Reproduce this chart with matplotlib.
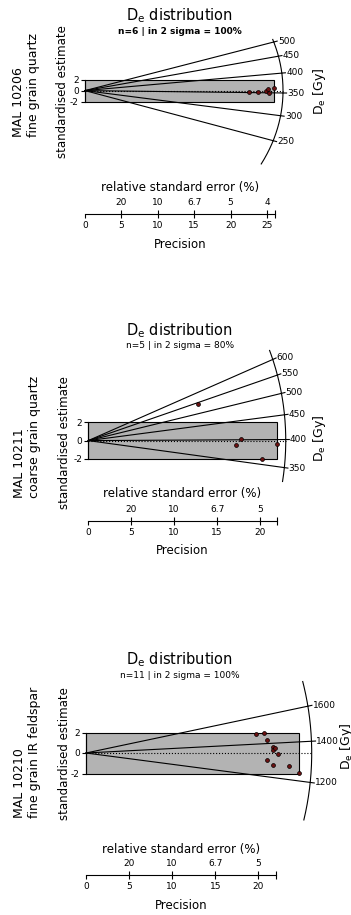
import numpy as np
import matplotlib.pyplot as plt
from matplotlib.patches import Rectangle

W, H = 351, 915

# MAL 10206 - fine grain quartz
p1_prec = [22.57, 23.76, 24.89, 25.07, 25.23, 26.03]
p1_z = [-0.28, -0.20, -0.02, 0.32, -0.52, 0.50]
p1_central = 355.6
p1_ticks = [250, 300, 350, 400, 450, 500]
p1_arc = [205, 510]
p1_prec_ticks = [0, 5, 10, 15, 20, 25]
p1_rse_labels = ['20', '10', '6.7', '5', '4']
p1_axis_end = 26.1

# MAL 10211 - coarse grain quartz
p2_prec = [12.81, 17.75, 17.24, 20.20, 21.98]
p2_z = [3.98, 0.12, -0.48, -1.98, -0.40]
p2_central = 398.0
p2_ticks = [350, 400, 450, 500, 550, 600]
p2_arc = [327, 633]
p2_prec_ticks = [0, 5, 10, 15, 20]
p2_rse_labels = ['20', '10', '6.7', '5']
p2_axis_end = 21.95

# MAL 10210 - fine grain IR feldspar
p3_prec = [19.73, 20.70, 20.97, 21.66, 21.66, 21.97, 22.32, 21.04, 21.75, 23.60, 24.76]
p3_z = [1.81, 1.98, 1.30, 0.58, 0.32, 0.49, -0.10, -0.65, -1.21, -1.30, -1.95]
p3_central = 1340.0
p3_ticks = [1200, 1400, 1600]
p3_arc = [1035, 1768]
p3_prec_ticks = [0, 5, 10, 15, 20]
p3_rse_labels = ['20', '10', '6.7', '5']
p3_axis_end = 22.05

fig = plt.figure(figsize=(W / 100, H / 100), dpi=100)


def fx(px):
    return px / W


def fy(py):
    return 1 - py / H


def radial(prec, z, central, ticks, arc, prec_ticks, rse_labels, axis_end,
           sample, subtitle, lay, bold=False):
    ox, oy, sx, sy = lay['ox'], lay['oy'], lay['sx'], lay['sy']
    r, f = lay['r'], lay['f']
    top, bot = oy - 110, oy + 90
    ax = fig.add_axes([0, fy(bot), 1, (bot - top) / H])
    ax.set_xlim(-ox / sx, (W - ox) / sx)
    ax.set_ylim(-(bot - oy) / sy, (oy - top) / sy)
    for s in ['top', 'right', 'bottom']:
        ax.spines[s].set_visible(False)
    ax.spines['left'].set_position(('data', 0))
    ax.spines['left'].set_bounds(-2, 2)
    ax.spines['left'].set_linewidth(0.8)
    ax.set_xticks([])
    ax.set_yticks([-2, 0, 2], ['-2', '0', '2'])
    ax.tick_params(axis='y', length=3, width=0.8, pad=1.5, labelsize=6.5)
    ax.patch.set_visible(False)

    ax.add_patch(Rectangle((0, -2), max(prec), 4, fc='#b3b3b3', ec='black',
                           lw=0.8, zorder=1))
    ax.plot([0, r], [0, 0], color='black', ls=':', lw=0.8, zorder=2)
    for t in ticks:
        d = np.log(t / central)
        xe = r / np.sqrt(1 + f ** 2 * d ** 2)
        ye = d * xe
        ax.plot([0, xe], [0, ye], color='black', lw=0.8, zorder=2)
        ax.plot([xe, xe * 1.018], [ye, ye * 1.018], color='black', lw=0.8)
        ax.annotate(str(t), (xe * 1.018, ye * 1.018), xytext=(0.5, 0),
                    textcoords='offset points', ha='left', va='center',
                    fontsize=6.5, annotation_clip=False)
    dd = np.linspace(np.log(arc[0] / central), np.log(arc[1] / central), 200)
    xa = r / np.sqrt(1 + f ** 2 * dd ** 2)
    ax.plot(xa, dd * xa, color='black', lw=0.8, clip_on=False)
    ax.plot(prec, z, 'o', ms=2.8, mfc='#6b1010', mec='black', mew=0.5,
            zorder=3, clip_on=False)

    # precision / relative standard error axis
    ay = lay['axis_y']
    pax = fig.add_axes([0, fy(ay), 1, 0.0001])
    pax.set_xlim(ax.get_xlim())
    pax.patch.set_visible(False)
    for s in ['top', 'right', 'left']:
        pax.spines[s].set_visible(False)
    pax.spines['bottom'].set_bounds(0, axis_end)
    pax.spines['bottom'].set_linewidth(0.8)
    pax.set_yticks([])
    pax.set_xticks(prec_ticks + [axis_end], [str(p) for p in prec_ticks] + [''])
    pax.tick_params(axis='x', length=3, width=0.8, pad=2, labelsize=6.5)
    sec = pax.secondary_xaxis('top')
    sec.spines['top'].set_visible(False)
    sec.set_xticks(prec_ticks[1:] + [axis_end], rse_labels + [''])
    sec.tick_params(axis='x', length=3, width=0.8, pad=2, labelsize=6.5)

    xmid = ox + axis_end * sx / 2
    fig.text(fx(xmid), fy(lay['rse_y']), 'relative standard error (%)',
             ha='center', va='center', fontsize=8.5)
    fig.text(fx(xmid), fy(lay['prec_y']), 'Precision',
             ha='center', va='center', fontsize=8.5)

    fig.text(fx(180), fy(lay['title_y']), r'D$_\mathrm{e}$ distribution',
             ha='center', va='center', fontsize=10.5)
    fig.text(fx(180), fy(lay['sub_y']), subtitle, ha='center', va='center',
             fontsize=6.5, fontweight='bold' if bold else 'normal')
    fig.text(fx(lay['left_x']), fy(lay['left_y']), sample, rotation=90,
             ha='center', va='bottom', multialignment='left', fontsize=9)
    fig.text(fx(lay['ylab_x']), fy(lay['ylab_y']), 'standardised estimate',
             rotation=90, ha='center', va='center', fontsize=8.5)
    fig.text(fx(lay['de_x']), fy(lay['de_y']), r'D$_\mathrm{e}$ [Gy]',
             rotation=90, ha='center', va='center', fontsize=9)


lay1 = dict(ox=85, oy=90.6, sx=7.28, sy=5.5, r=27.2, f=0.93, axis_y=214.3,
            title_y=16, sub_y=31.5, rse_y=188, prec_y=244, left_x=26,
            left_y=137, ylab_x=63, ylab_y=92, de_x=320, de_y=91.7)
lay2 = dict(ox=88.3, oy=440.6, sx=8.585, sy=9.2, r=23.0, f=0.93, axis_y=520.7,
            title_y=330.7, sub_y=345.7, rse_y=493.3, prec_y=550, left_x=26.7,
            left_y=498.3, ylab_x=65, ylab_y=442.5, de_x=320, de_y=438.3)
lay3 = dict(ox=86, oy=753, sx=8.615, sy=10.25, r=26.2, f=1.05, axis_y=875,
            title_y=659.3, sub_y=675, rse_y=849.3, prec_y=905.7, left_x=26.7,
            left_y=818, ylab_x=64.5, ylab_y=753.3, de_x=346.7, de_y=746.7)

radial(p1_prec, p1_z, p1_central, p1_ticks, p1_arc, p1_prec_ticks,
       p1_rse_labels, p1_axis_end, 'MAL 10206\nfine grain quartz',
       'n=6 | in 2 sigma = 100%', lay1, bold=True)
radial(p2_prec, p2_z, p2_central, p2_ticks, p2_arc, p2_prec_ticks,
       p2_rse_labels, p2_axis_end, 'MAL 10211\ncoarse grain quartz',
       'n=5 | in 2 sigma = 80%', lay2)
radial(p3_prec, p3_z, p3_central, p3_ticks, p3_arc, p3_prec_ticks,
       p3_rse_labels, p3_axis_end, 'MAL 10210\nfine grain IR feldspar',
       'n=11 | in 2 sigma = 100%', lay3)

fig.savefig('out.png', dpi=100)
